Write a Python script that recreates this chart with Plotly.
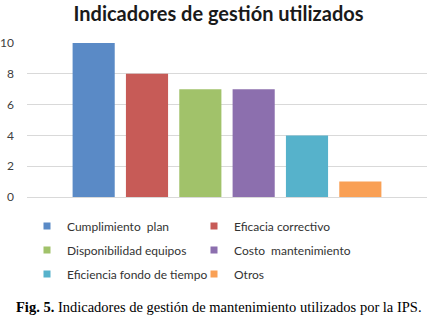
import plotly.graph_objects as go

categories = ["Cumplimiento  plan", "Eficacia correctivo", "Disponibilidad equipos",
              "Costo  mantenimiento", "Eficiencia fondo de tiempo", "Otros"]
values = [10, 8, 7, 7, 4, 1]
colors = ["#5A8AC6", "#C75B57", "#A1C26A", "#8C6FAE", "#56B2CB", "#F9A055"]
y_ticks = [0, 2, 4, 6, 8, 10]

W, H = 437, 324
L, R, T, B = 27, 10, 43, 127
plot_h = H - T - B
plot_w = W - L - R

legend_names = ["legend", "legend", "legend2", "legend2", "legend3", "legend3"]

fig = go.Figure()
for name, val, col in zip(categories, values, colors):
    fig.add_trace(go.Bar(
        x=[""], y=[val], name=name, marker=dict(color=col, line=dict(width=0)),
        showlegend=False, legendgroup=name,
    ))
# legend entries (small square keys like the original)
for name, col, lg in zip(categories, colors, legend_names):
    fig.add_trace(go.Scatter(
        x=[None], y=[None], mode="markers", name=name, legend=lg, legendgroup=name,
        marker=dict(symbol="square", size=7, color=col, line=dict(width=0)),
        hoverinfo="skip",
    ))

def py(px):
    return -(px - (H - B)) / plot_h

leg_common = dict(orientation="h", x=(27 - L) / plot_w, xanchor="left", yanchor="middle",
                  font=dict(family="Lato", size=12, color="#333333"),
                  entrywidth=122, bgcolor="rgba(0,0,0,0)", itemclick=False,
                  itemdoubleclick=False)

fig.update_layout(
    width=W, height=H,
    margin=dict(l=L, r=R, t=T, b=B, pad=0, autoexpand=False),
    paper_bgcolor="white", plot_bgcolor="white",
    barmode="group", bargap=0.2, bargroupgap=0.21,
    title=dict(text="<b>Indicadores de gestión utilizados</b>", xref="container", x=0.5,
               xanchor="center", yref="container", y=1 - 14 / H, yanchor="middle",
               font=dict(family="Lato", size=20, color="#1a1a1a")),
    xaxis=dict(showticklabels=False, showgrid=False, zeroline=False, showline=False,
               automargin=False),
    yaxis=dict(range=[0, 10], tickvals=y_ticks, showgrid=True, gridcolor="#D9D9D9",
               gridwidth=1, zeroline=True, zerolinecolor="#D9D9D9", zerolinewidth=1,
               showline=False, ticks="", ticklabelstandoff=12, automargin=False,
               tickfont=dict(family="Lato", size=12, color="#404040")),
    legend=dict(y=py(226), **leg_common),
    legend2=dict(y=py(250), **leg_common),
    legend3=dict(y=py(274), **leg_common),
    annotations=[dict(
        text="<b>Fig. 5.</b> Indicadores de gestión de mantenimiento utilizados por la IPS.",
        xref="paper", x=(W / 2 - L) / plot_w, xanchor="center",
        yref="paper", y=py(307), yanchor="middle", showarrow=False,
        font=dict(family="Liberation Serif", size=14.5, color="black"))],
)

fig.write_html("out.html", config={"displayModeBar": False},
               post_script="document.body.style.margin='0';")
